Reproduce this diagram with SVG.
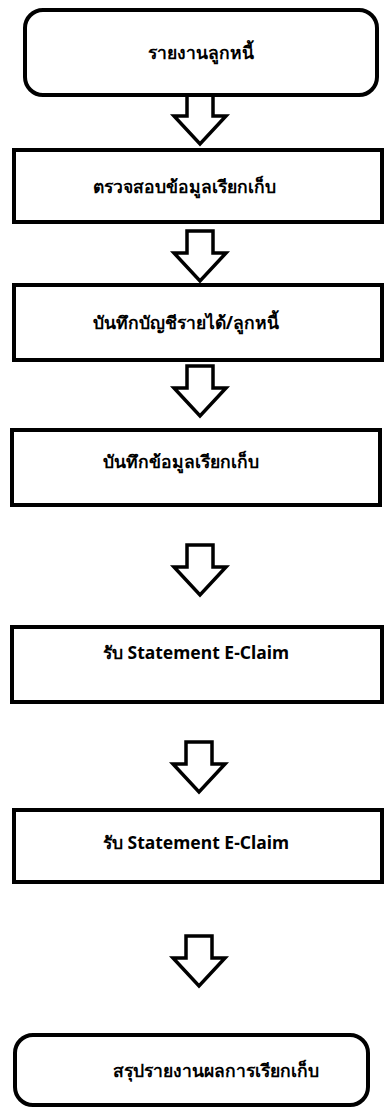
<svg xmlns="http://www.w3.org/2000/svg" width="385" height="1109" viewBox="0 0 385 1109">
  <defs>
    <!-- block arrow pointing down, centred on x=0, top at y=0 -->
    <path id="down-arrow" d="M -13 0 L 13 0 L 13 22 L 26 22 L 0 50 L -26 22 L -13 22 Z"/>
  </defs>
  <style>
    .box { fill: #ffffff; stroke: #000000; stroke-width: 4; }
    .arrow { fill: #ffffff; stroke: #000000; stroke-width: 3.5; stroke-linejoin: miter; }
    .label { font-family: "Noto Sans", "DejaVu Sans", sans-serif; font-size: 17.5px; font-weight: bold; fill: #000000; text-anchor: middle; dominant-baseline: central; }
  </style>
  <rect width="385" height="1109" fill="#ffffff"/>

  <g id="connectors">
    <use href="#down-arrow" class="arrow" x="200" y="94"/>
    <use href="#down-arrow" class="arrow" x="200" y="231"/>
    <use href="#down-arrow" class="arrow" x="200" y="366"/>
    <use href="#down-arrow" class="arrow" x="200" y="545"/>
    <use href="#down-arrow" class="arrow" x="199" y="742"/>
    <use href="#down-arrow" class="arrow" x="199" y="936"/>
  </g>

  <g id="node-debtor-report">
    <rect class="box" x="25" y="10" width="352" height="85" rx="18"/>
    <text class="label" x="201" y="52">รายงานลูกหนี้</text>
  </g>

  <g id="node-check-billing">
    <rect class="box" x="14" y="150" width="368" height="72"/>
    <text class="label" x="184" y="186">ตรวจสอบข้อมูลเรียกเก็บ</text>
  </g>

  <g id="node-record-revenue">
    <rect class="box" x="14" y="285" width="368" height="75"/>
    <text class="label" x="186" y="322">บันทึกบัญชีรายได้/ลูกหนี้</text>
  </g>

  <g id="node-record-billing">
    <rect class="box" x="12" y="430" width="368" height="75"/>
    <text class="label" x="181" y="461">บันทึกข้อมูลเรียกเก็บ</text>
  </g>

  <g id="node-statement-1">
    <rect class="box" x="12" y="627" width="370" height="75"/>
    <text class="label" x="196" y="652">รับ Statement E-Claim</text>
  </g>

  <g id="node-statement-2">
    <rect class="box" x="14" y="810" width="368" height="72"/>
    <text class="label" x="196" y="842">รับ Statement E-Claim</text>
  </g>

  <g id="node-summary">
    <rect class="box" x="15" y="1035" width="353" height="70" rx="18"/>
    <text class="label" x="216" y="1070">สรุปรายงานผลการเรียกเก็บ</text>
  </g>
</svg>
